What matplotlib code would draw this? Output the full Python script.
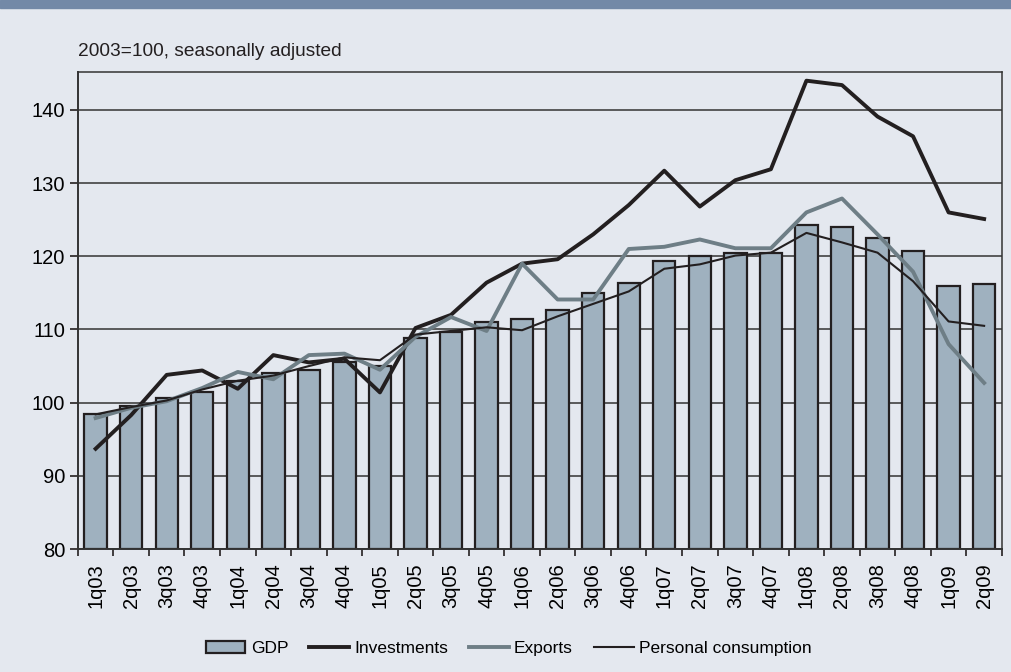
import matplotlib.pyplot as plt
import numpy as np
from matplotlib.patches import Rectangle

# data (2003=100, seasonally adjusted)
quarters = ['1q03', '2q03', '3q03', '4q03', '1q04', '2q04', '3q04', '4q04',
            '1q05', '2q05', '3q05', '4q05', '1q06', '2q06', '3q06', '4q06',
            '1q07', '2q07', '3q07', '4q07', '1q08', '2q08', '3q08', '4q08',
            '1q09', '2q09']
gdp = [98.5, 99.6, 100.6, 101.5, 103.0, 104.1, 104.5, 105.5, 105.0, 108.9,
       109.7, 111.0, 111.4, 112.7, 115.0, 116.3, 119.3, 120.0, 120.4, 120.5,
       124.3, 124.0, 122.5, 120.7, 116.0, 116.2]
investments = [93.7, 98.3, 103.8, 104.4, 101.9, 106.5, 105.5, 106.0, 101.4, 110.2,
               112.0, 116.4, 119.0, 119.6, 123.0, 127.0, 131.7, 126.8, 130.4, 131.9,
               144.0, 143.4, 139.1, 136.4, 126.0, 125.1]
exports = [97.9, 99.3, 100.2, 102.0, 104.2, 103.2, 106.5, 106.7, 104.5, 109.0,
           111.7, 109.8, 119.0, 114.1, 114.1, 121.0, 121.3, 122.3, 121.1, 121.1,
           126.0, 127.9, 123.0, 117.9, 108.0, 102.7]
consumption = [98.4, 99.4, 100.3, 101.8, 103.0, 103.7, 105.0, 106.2, 105.8, 109.3,
               109.8, 110.3, 109.9, 111.8, 113.5, 115.2, 118.3, 118.9, 120.1, 120.5,
               123.2, 121.9, 120.5, 116.6, 111.1, 110.5]

bg = '#e4e8ef'
plt.rcParams['font.family'] = ['Liberation Sans', 'DejaVu Sans']

fig = plt.figure(figsize=(10.11, 6.72), dpi=100, facecolor=bg)
ax = fig.add_axes([0.077, 0.183, 0.914, 0.710])
ax.set_facecolor(bg)

# header strip
fig.patches.append(Rectangle((0, 0.988), 1, 0.012, transform=fig.transFigure,
                             color='#7389a7', zorder=0))

x = np.arange(len(quarters))
bars = ax.bar(x, [g - 80 for g in gdp], bottom=80, width=0.63, color='#9fb1bf',
              edgecolor='#231f20', linewidth=1.6, label='GDP', zorder=2)
l1, = ax.plot(x, investments, color='#231f20', lw=2.8, label='Investments', zorder=3)
l2, = ax.plot(x, exports, color='#6e7e86', lw=2.8, label='Exports', zorder=3)
l3, = ax.plot(x, consumption, color='#231f20', lw=1.5, label='Personal consumption', zorder=4)

ax.set_xlim(-0.5, len(quarters) - 0.5)
ax.set_ylim(80, 145.2)
ax.set_yticks([80, 90, 100, 110, 120, 130, 140])
ax.set_xticks(x)
ax.set_xticklabels(quarters, rotation=90, fontsize=14.5)
ax.set_xticks(np.arange(-0.5, len(quarters)), minor=True)
ax.tick_params(axis='x', which='major', length=0, pad=10)
ax.tick_params(axis='x', which='minor', length=5, width=1.2, color='#231f20')
ax.tick_params(axis='y', length=6, width=1.2, color='#231f20', labelsize=14.5, pad=3)
ax.grid(axis='y', color='#333333', lw=1.1, zorder=1)
ax.set_axisbelow(True)
for s in ax.spines.values():
    s.set_color('#333333')
    s.set_linewidth(1.1)
ax.spines['left'].set_linewidth(1.4)
ax.spines['bottom'].set_linewidth(1.4)

fig.text(0.077, 0.916, '2003=100, seasonally adjusted', fontsize=13.8, color='#231f20')

fig.legend([bars, l1, l2, l3], ['GDP', 'Investments', 'Exports', 'Personal consumption'],
           loc='center', bbox_to_anchor=(0.503, 0.035), ncol=4, frameon=False,
           fontsize=12.5, handlelength=2.3, handletextpad=0.3, columnspacing=1.2)

fig.savefig('out.png', dpi=100, facecolor=bg)
